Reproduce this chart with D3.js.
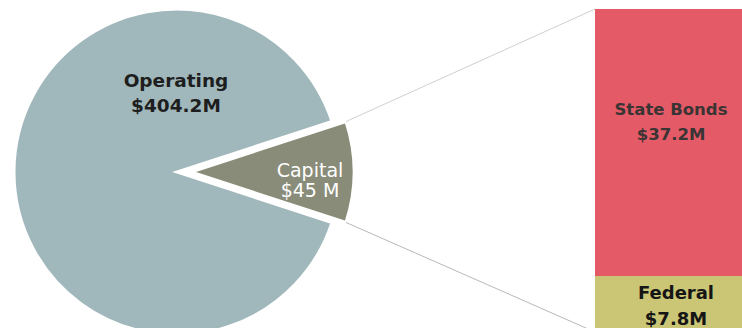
<!DOCTYPE html>
<html>
<head>
<meta charset="utf-8">
<script src="https://cdn.jsdelivr.net/npm/d3@7"></script>
<style>
  html, body { margin: 0; padding: 0; background: #fff; }
  svg { display: block; }
</style>
</head>
<body>
<svg id="chart" width="742" height="328"></svg>
<script>
// Funding split: pie of total spending, with the capital slice broken out in a bar
const pieCategories = ["Operating", "Capital"];
const pieValues = [404.2, 45];
const pieLabels = ["$404.2M", "$45 M"];

const barCategories = ["State Bonds", "Federal"];
const barValues = [37.2, 7.8];
const barLabels = ["$37.2M", "$7.8M"];

const pieColors = ["#a0b8bb", "#8a8c7a"];
const barColors = ["#e45a66", "#cac676"];

const svg = d3.select("#chart");

// ---- pie ----
const cx = 177, cy = 172, r = 163, explode = 14;
const pieData = pieCategories.map((c, i) => ({ name: c, value: pieValues[i], label: pieLabels[i] }));
const total = d3.sum(pieValues);
const capAngle = 2 * Math.PI * pieValues[1] / total;
// Operating first, so the capital slice ends up centred on the 3 o'clock direction
const pie = d3.pie().sort(null).value(d => d.value)
  .startAngle(Math.PI / 2 + capAngle / 2)
  .endAngle(Math.PI / 2 + capAngle / 2 + 2 * Math.PI);
const arcs = pie(pieData);
const arc = d3.arc().innerRadius(0).outerRadius(r);

const offsetOf = (d, i) => {
  if (i === 0) return [0, 0];
  const mid = (d.startAngle + d.endAngle) / 2;
  return [explode * Math.sin(mid), -explode * Math.cos(mid)];
};

const pieG = svg.append("g").attr("transform", `translate(${cx},${cy})`);
pieG.selectAll("path.slice")
  .data(arcs)
  .join("path")
  .attr("class", "slice")
  .attr("transform", (d, i) => { const o = offsetOf(d, i); return `translate(${o[0]},${o[1]})`; })
  .attr("d", arc)
  .attr("fill", (d, i) => pieColors[i])
  .attr("stroke", "#fff")
  .attr("stroke-width", 3)
  .attr("stroke-linejoin", "miter");

// ---- bar of the capital breakdown ----
const barX = 595, barW = 154, barTop = 9;
const barScale = d3.scaleLinear().domain([0, d3.sum(barValues)]).range([barTop, barTop + 323]);
const stacked = [];
let acc = 0;
barValues.forEach((v, i) => { stacked.push({ name: barCategories[i], label: barLabels[i], y0: acc, y1: acc + v }); acc += v; });

// connector lines from the capital slice corners to the bar corners
const capArc = arcs[1];
const capOff = offsetOf(capArc, 1);
const corner = a => [cx + capOff[0] + r * Math.sin(a), cy + capOff[1] - r * Math.cos(a)];
const capTop = corner(capArc.startAngle);
const capBottom = corner(capArc.endAngle);
svg.append("line")
  .attr("x1", capTop[0]).attr("y1", capTop[1])
  .attr("x2", barX).attr("y2", barScale(0))
  .attr("stroke", "#cfcfcf").attr("stroke-width", 1);
svg.append("line")
  .attr("x1", capBottom[0]).attr("y1", capBottom[1])
  .attr("x2", barX).attr("y2", barScale(acc))
  .attr("stroke", "#b8b8b8").attr("stroke-width", 1);

svg.selectAll("rect.seg")
  .data(stacked)
  .join("rect")
  .attr("class", "seg")
  .attr("x", barX)
  .attr("y", d => barScale(d.y0))
  .attr("width", barW)
  .attr("height", d => barScale(d.y1) - barScale(d.y0))
  .attr("fill", (d, i) => barColors[i]);

// ---- labels ----
const font = "'DejaVu Sans', Verdana, sans-serif";
function twoLine(x, y1, y2, a, b, opts) {
  const t = svg.append("text")
    .attr("text-anchor", "middle")
    .attr("font-family", font)
    .attr("font-size", opts.size)
    .attr("font-weight", opts.weight)
    .attr("fill", opts.fill);
  t.append("tspan").attr("x", x).attr("y", y1).text(a);
  t.append("tspan").attr("x", x).attr("y", y2).text(b);
}

twoLine(176, 87, 112, pieData[0].name, pieData[0].label, { size: 18.5, weight: 700, fill: "#1e1e1e" });
twoLine(310, 177, 197, pieData[1].name, pieData[1].label, { size: 19, weight: 400, fill: "#ffffff" });

twoLine(671, 115, 140, stacked[0].name, stacked[0].label, { size: 16.5, weight: 700, fill: "#3a3434" });
twoLine(676, 299, 325, stacked[1].name, stacked[1].label, { size: 18, weight: 700, fill: "#151515" });
</script>
</body>
</html>
